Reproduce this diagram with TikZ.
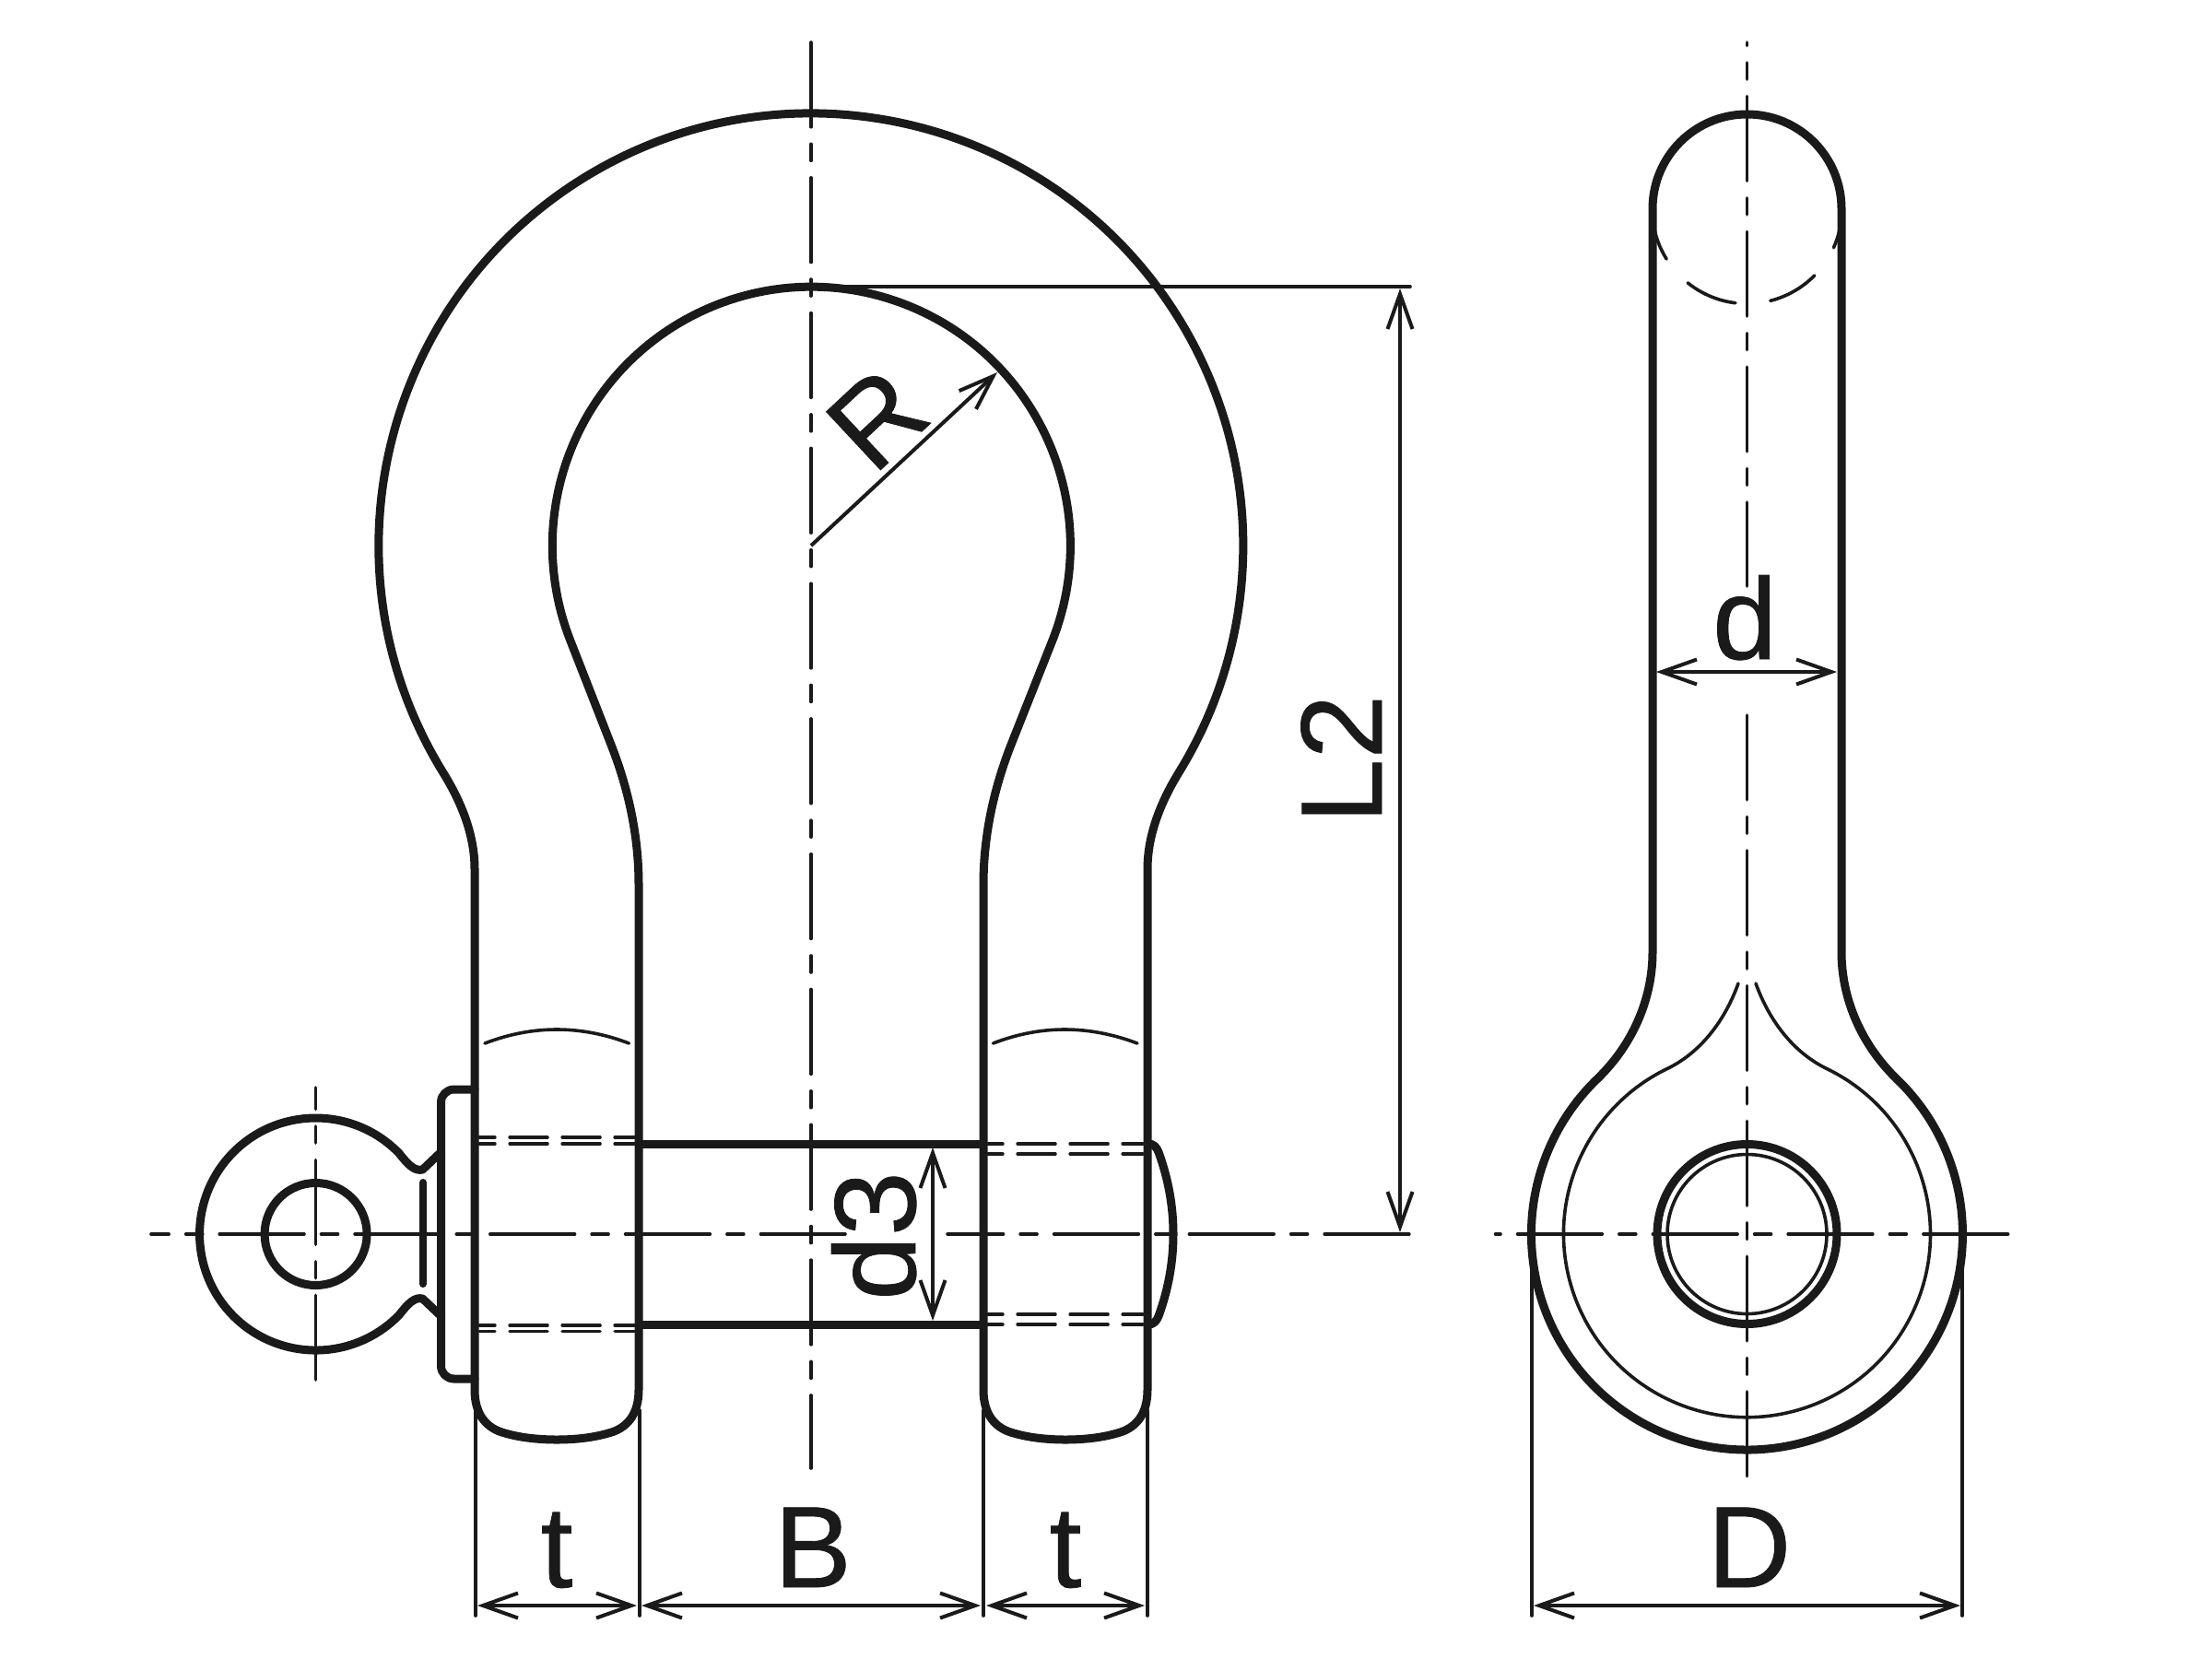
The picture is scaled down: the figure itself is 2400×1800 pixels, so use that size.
\documentclass[tikz,border=0pt]{standalone}
\usepackage{fontspec}
\setmainfont[FakeBold=0.6]{Liberation Sans}
\usetikzlibrary{arrows.meta}
\definecolor{ink}{HTML}{1A1A1A}
\tikzset{
  thickline/.style={line width=0.09cm,line join=round,line cap=round},
  thinline/.style={line width=0.036cm,line cap=round},
  pinline/.style={line width=0.034cm,line cap=round,dash pattern=on 0.41cm off 0.16cm},
  axisline/.style={line width=0.036cm,line cap=round,dash pattern=on 0.917cm off 0.185cm on 0.18cm off 0.185cm},
  dimline/.style={line width=0.04cm,{Straight Barb[length=0.38cm,width=0.27cm]}-{Straight Barb[length=0.38cm,width=0.27cm]}},
  lbl/.style={inner sep=0pt,anchor=base,text=ink,font=\fontsize{35.7}{40}\selectfont}
}
\begin{document}
\begin{tikzpicture}[x=0.01cm,y=-0.01cm,color=ink]
\useasboundingbox (0,0) rectangle (2400,1800);
\coordinate (bowc) at (880,592);
\coordinate (eyec) at (342.6,1339);
\coordinate (headc) at (1895.5,226.5);
\coordinate (ringc) at (1895.5,1339);

% shackle bow
\draw[thickline] (515,1508) -- (515,943) .. controls (515,905) and (500,869) .. (480,837)
  arc[start angle=148.5,end angle=391.5,radius=469]
  .. controls (1260,869) and (1245,905) .. (1245,943) -- (1245,1508)
  .. controls (1245,1535) and (1232,1550) .. (1212,1555)
  .. controls (1195,1560) and (1175,1562) .. (1156,1562)
  .. controls (1137,1562) and (1117,1560) .. (1100,1555)
  .. controls (1080,1550) and (1067,1535) .. (1067,1508)
  -- (1067,960) .. controls (1067,915) and (1075,864) .. (1097,808)
  -- (1143,692) arc[start angle=20.8,end angle=-200.8,radius=281]
  -- (663,808) .. controls (685,864) and (693,915) .. (693,960) -- (693,1508)
  .. controls (693,1535) and (680,1550) .. (660,1555)
  .. controls (643,1560) and (623,1562) .. (604,1562)
  .. controls (585,1562) and (565,1560) .. (548,1555)
  .. controls (528,1550) and (515,1535) .. (515,1508);
\draw[thinline] (526,1132) .. controls (578,1112) and (630,1112) .. (682.5,1132);
\draw[thinline] (1077.5,1132) .. controls (1129,1112) and (1181,1112) .. (1234,1132);

% pin
\draw[thickline] (693,1241) -- (1067,1241);
\draw[thickline] (693,1437) -- (1067,1437);
\draw[pinline,dash phase=0.24cm] (520,1234) -- (689,1234);
\draw[pinline,dash phase=0.24cm] (520,1241) -- (689,1241);
\draw[pinline,dash phase=0.24cm] (520,1438) -- (689,1438);
\draw[pinline,dash phase=0.24cm] (520,1444.5) -- (689,1444.5);
\draw[pinline,dash phase=0.25cm] (1072,1241) -- (1240,1241);
\draw[pinline,dash phase=0.25cm] (1072,1252) -- (1240,1252);
\draw[pinline,dash phase=0.25cm] (1072,1426) -- (1240,1426);
\draw[pinline,dash phase=0.25cm] (1072,1437) -- (1240,1437);
\draw[thickline] (1246,1241) .. controls (1252,1241) and (1255,1245) .. (1257,1250)
  .. controls (1268,1280) and (1273,1310) .. (1273,1339)
  .. controls (1273,1368) and (1268,1398) .. (1257,1428)
  .. controls (1255,1433) and (1252,1437) .. (1246,1437);

% pin head with eye
\draw[thickline,rounded corners=0.14cm] (515,1182) -- (478.5,1182) -- (478.5,1496) -- (515,1496);
\draw[thickline] (478.5,1250) -- (458.5,1269) .. controls (450,1271) and (443,1264) .. (433.2,1251.5)
  arc[start angle=316,end angle=44,radius=126]
  .. controls (443,1414) and (450,1407) .. (458.5,1409) -- (478.5,1428);
\draw[thickline] (eyec) circle[radius=55.5];
\draw[line width=0.08cm,line cap=round] (459,1283) -- (459,1393);

% side view
\draw[thickline] (1793,1033) -- (1793,226.5) arc[start angle=180,end angle=360,radius=102.5]
  -- (1998,1033) .. controls (1998,1085) and (2020.6,1134.6) .. (2058,1170.7)
  arc[start angle=-46,end angle=226,radius=234]
  .. controls (1770.4,1134.6) and (1793,1085) .. (1793,1033);
\draw[thinline] (1905,1067) .. controls (1919,1106) and (1945,1142) .. (1983,1160)
  arc[start angle=-63.9,end angle=243.9,radius=199]
  .. controls (1846,1142) and (1872,1106) .. (1886,1067);
\draw[thickline] (ringc) circle[radius=97.5];
\draw[thinline] (ringc) circle[radius=86.5];
\draw[thinline] (headc) ++(11.3:103) arc[start angle=11.3,end angle=24.2,radius=103];
\draw[thinline] (headc) ++(44.6:103) arc[start angle=44.6,end angle=75.8,radius=103];
\draw[thinline] (headc) ++(97:103) arc[start angle=97,end angle=128.7,radius=103];
\draw[thinline] (headc) ++(148:103) arc[start angle=148,end angle=168,radius=103];

% centre lines
\draw[axisline,dash phase=0.725cm] (164,1339) -- (917,1339);
\draw[axisline,dash phase=0.312cm] (1028,1339) -- (1530,1339);
\draw[axisline] (880,46) -- (880,1593);
\draw[axisline,dash phase=0.682cm] (342.6,1180) -- (342.6,1497);
\draw[axisline,dash phase=0.882cm] (1895.5,46) -- (1895.5,636);
\draw[axisline] (1895.5,776) -- (1895.5,1603);
\draw[axisline,dash phase=1.227cm] (1622.5,1339) -- (2179,1339);

% dimensions
\draw[thinline] (516,1530) -- (516,1753);
\draw[thinline] (694,1530) -- (694,1753);
\draw[thinline] (1067,1530) -- (1067,1753);
\draw[thinline] (1245,1530) -- (1245,1753);
\draw[thinline] (1662,1367) -- (1662,1753);
\draw[thinline] (2129,1367) -- (2129,1753);
\draw[thinline] (885,311) -- (1530,311);
\draw[dimline] (518,1742) -- (691,1742);
\draw[dimline] (696,1742) -- (1064,1742);
\draw[dimline] (1070,1742) -- (1242,1742);
\draw[dimline] (1664,1742) -- (2127,1742);
\draw[dimline] (1519,313) -- (1519,1337);
\draw[dimline] (1012,1245) -- (1012,1433);
\draw[dimline] (1797,729) -- (1993,729);
\draw[line width=0.04cm,-{Straight Barb[length=0.38cm,width=0.27cm]}] (bowc) -- (1082,404);

\node[lbl] (lblta) at (604,1722) {t};
\node[lbl] (lblb) at (882,1722) {B};
\node[lbl] (lbltb) at (1156,1722) {t};
\node[lbl] (lblbigd) at (1898,1722) {D};
\node[lbl] (lbld) at (1893,715) {d};
\node[lbl,rotate=90] (lbldiii) at (993,1341) {d3};
\node[lbl,rotate=90] (lbllii) at (1499,823.5) {L2};
\node[lbl,rotate=43] (lblr) at (981,486) {R};
\end{tikzpicture}
\end{document}
